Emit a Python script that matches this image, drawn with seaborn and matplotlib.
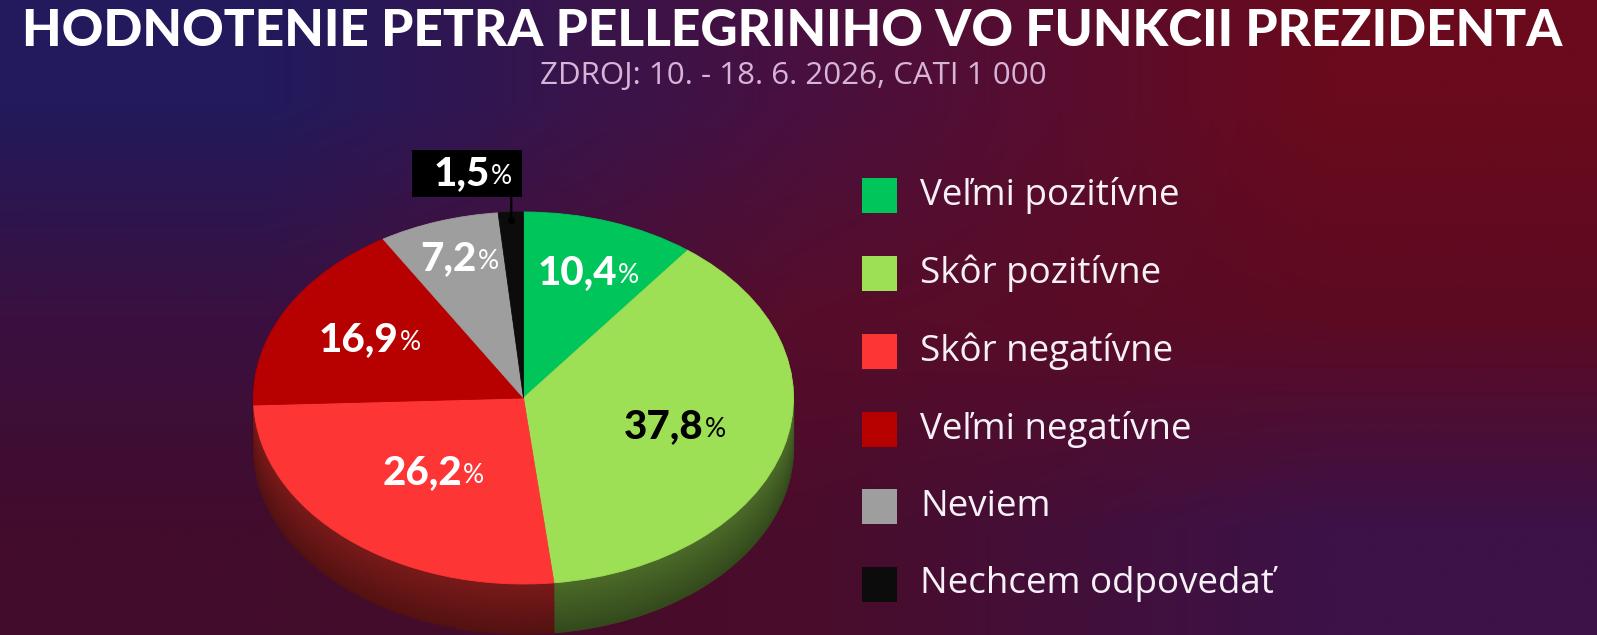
import matplotlib
matplotlib.use("Agg")
import matplotlib.pyplot as plt
import matplotlib.colors as mcolors
from matplotlib.patches import Rectangle
from matplotlib.transforms import Bbox, IdentityTransform
import seaborn as sns
import numpy as np
import pandas as pd

# data
title = "HODNOTENIE PETRA PELLEGRINIHO VO FUNKCII PREZIDENTA"
subtitle = "ZDROJ: 10. - 18. 6. 2026, CATI 1 000"
categories = ["Veľmi pozitívne", "Skôr pozitívne", "Skôr negatívne",
              "Veľmi negatívne", "Neviem", "Nechcem odpovedať"]
values = [10.4, 37.8, 26.2, 16.9, 7.2, 1.5]
colors = ["#00c55a", "#9ddf55", "#fe3535", "#b70000", "#9e9e9e", "#0c0c0c"]
label_colors = ["white", "black", "white", "white", "white", "white"]

W, H = 1597, 635
sns.set_theme(style="white")
plt.rcParams["font.family"] = ["Lato", "DejaVu Sans"]

fig = plt.figure(figsize=(W / 100, H / 100), dpi=100)

# background gradient
bg_grid = [["#221a5c", "#481040", "#6a0a1c"],
           ["#3a1040", "#560d2a", "#5c0a22"],
           ["#420c2c", "#4a0c2a", "#3c1248"]]
bg_rgb = np.array([[mcolors.to_rgb(c) for c in row] for row in bg_grid])
bg = fig.add_axes([0, 0, 1, 1], zorder=-10)
bg.imshow(bg_rgb, aspect="auto", interpolation="bilinear", extent=[0, 1, 0, 1])
bg.axis("off")

# pie (ellipse in pixels)
cx, cy, rx, ry = 523.5, 398, 270, 186
ax = fig.add_axes([(cx - rx) / W, (H - cy - ry) / H, 2 * rx / W, 2 * ry / H])
depth = 50 / ry
N = 40
for k in range(N, 0, -1):
    f = 0.33 + 0.15 * (1 - k / N)
    dark = [tuple(np.array(mcolors.to_rgb(c)) * f) for c in colors]
    ws, _ = ax.pie(values, colors=dark, startangle=90, counterclock=False,
                   center=(0, -depth * k / N))
    for w in ws:
        w.set_edgecolor(w.get_facecolor())
        w.set_linewidth(0.8)
wedges, _ = ax.pie(values, colors=colors, startangle=90, counterclock=False)
for w in wedges:
    w.set_edgecolor(w.get_facecolor())
    w.set_linewidth(0.6)
ax.set_xlim(-1, 1)
ax.set_ylim(-1, 1)
ax.set_aspect("auto")
ax.axis("off")

r_fac = [0.71, 0.57, 0.53, 0.66, 0.79]
for i in range(5):
    w = wedges[i]
    th = np.deg2rad((w.theta1 + w.theta2) / 2)
    num = ax.annotate(f"{values[i]:.1f}".replace(".", ","),
                      xy=(r_fac[i] * np.cos(th), r_fac[i] * np.sin(th)),
                      xytext=(-8, 0), textcoords="offset pixels",
                      ha="center", va="center", fontsize=29,
                      fontweight="black", color=label_colors[i])
    ax.annotate("%", xy=(1, 0), xycoords=num, xytext=(1, 3),
                textcoords="offset pixels", ha="left", va="bottom",
                fontsize=19, color=label_colors[i])

# small slice with callout box
w = wedges[5]
th = np.deg2rad((w.theta1 + w.theta2) / 2)
px, py = 0.96 * np.cos(th), 0.96 * np.sin(th)
ax.annotate("", xy=(px, py), xytext=(0, 24), textcoords="offset pixels",
            arrowprops=dict(arrowstyle="-", color="black", lw=1.6,
                            shrinkA=0, shrinkB=0))
ax.plot([px], [py], "o", ms=4, color="black")
num5 = ax.annotate(f"{values[5]:.1f}".replace(".", ","), xy=(px, py),
                   xytext=(-50, 46), textcoords="offset pixels",
                   ha="center", va="center", fontsize=29,
                   fontweight="black", color="white")
pct5 = ax.annotate("%", xy=(1, 0), xycoords=num5, xytext=(1, 3),
                   textcoords="offset pixels", ha="left", va="bottom",
                   fontsize=19, color="white")

# legend
row_h = 77.7
top = 196 - row_h / 2
lax = fig.add_axes([862 / W, (H - (top + 6 * row_h)) / H,
                    (W - 862) / W, 6 * row_h / H])
df = pd.DataFrame({"cat": categories, "row": range(6), "x": 0})
sns.scatterplot(data=df, x="x", y="row", hue="cat", palette=colors,
                marker="s", s=(35 * 0.72) ** 2, linewidth=0, legend=False,
                ax=lax)
for i, c in enumerate(categories):
    lax.text(40.5, i, c, ha="left", va="center", fontsize=26.5,
             family=["Open Sans", "DejaVu Sans"], color="#f7f0f7")
lax.set_xlim(-17.5, W - 862 - 17.5)
lax.set_ylim(5.5, -0.5)
lax.axis("off")

# titles
fig.text(792.5 / W, 1 - 32 / H, title, ha="center", va="center",
         fontsize=37, fontweight="black", color="white")
fig.text(793 / W, 1 - 76 / H, subtitle, ha="center", va="center",
         fontsize=22.5, fontweight="normal", family=["Open Sans", "DejaVu Sans"],
         color="#d8b4d8")

# black box behind the small label
fig.canvas.draw()
bb = Bbox.union([num5.get_window_extent(), pct5.get_window_extent()])
ymid = (num5.get_window_extent().y0 + num5.get_window_extent().y1) / 2
fig.add_artist(Rectangle((bb.x0 - 21, ymid - 23.5), bb.width + 31, 47,
                         facecolor="black", edgecolor="none",
                         transform=IdentityTransform(), zorder=-1))

fig.savefig("out.png", dpi=100)
